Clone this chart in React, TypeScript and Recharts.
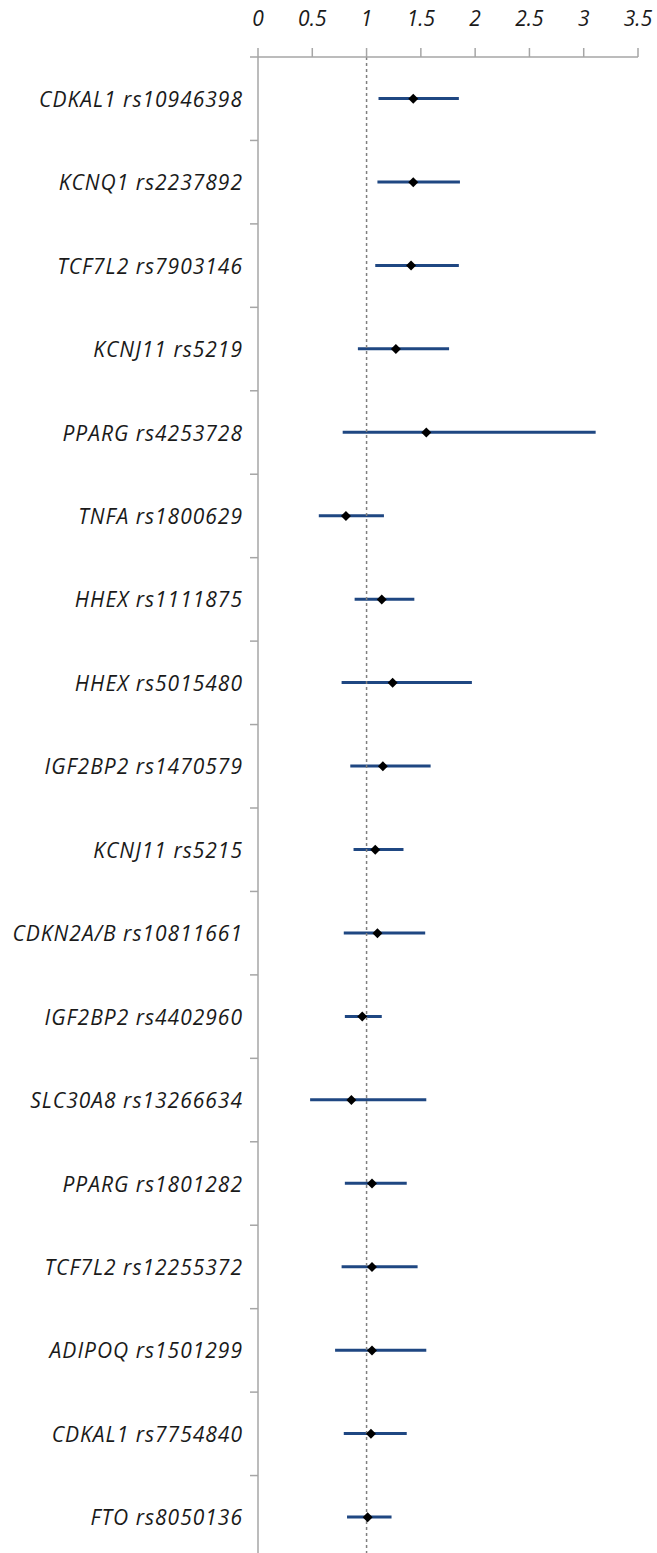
import React from 'react'
import { ComposedChart, Bar, Scatter, XAxis, YAxis, ReferenceLine } from 'recharts'

const genes = [
  'CDKAL1 rs10946398',
  'KCNQ1 rs2237892',
  'TCF7L2 rs7903146',
  'KCNJ11 rs5219',
  'PPARG rs4253728',
  'TNFA rs1800629',
  'HHEX rs1111875',
  'HHEX rs5015480',
  'IGF2BP2 rs1470579',
  'KCNJ11 rs5215',
  'CDKN2A/B rs10811661',
  'IGF2BP2 rs4402960',
  'SLC30A8 rs13266634',
  'PPARG rs1801282',
  'TCF7L2 rs12255372',
  'ADIPOQ rs1501299',
  'CDKAL1 rs7754840',
  'FTO rs8050136',
]
const oddsRatio = [1.43, 1.43, 1.41, 1.27, 1.55, 0.81, 1.14, 1.24, 1.15, 1.08, 1.10, 0.96, 0.86, 1.05, 1.05, 1.05, 1.04, 1.01]
const ciLower = [1.11, 1.10, 1.08, 0.92, 0.78, 0.56, 0.89, 0.77, 0.85, 0.88, 0.79, 0.80, 0.48, 0.80, 0.77, 0.71, 0.79, 0.82]
const ciUpper = [1.85, 1.86, 1.85, 1.76, 3.11, 1.16, 1.44, 1.97, 1.59, 1.34, 1.54, 1.14, 1.55, 1.37, 1.47, 1.55, 1.37, 1.23]
const xTicks = [0, 0.5, 1, 1.5, 2, 2.5, 3, 3.5]

const data = genes.map((name, i) => ({
  name,
  or: oddsRatio[i],
  ci: [ciLower[i], ciUpper[i]],
}))

const FONT = '"Open Sans", "Liberation Sans", sans-serif'
const AXIS_GRAY = '#a6a6a6'
const Y_TICK = 8
const Y_MARGIN = 7

const GeneTick = (props: any) => {
  const { x, y, payload } = props
  const half = payload.offset ?? 0
  const axisX = x + Y_TICK + Y_MARGIN
  return (
    <g>
      <line x1={axisX - Y_TICK} x2={axisX} y1={y - half} y2={y - half} stroke={AXIS_GRAY} strokeWidth={1.5} />
      <text x={x} y={y} textAnchor="end" dominantBaseline="central" fontFamily={FONT} fontStyle="italic" fontSize={21} letterSpacing={1} fill="#1a1a1a">
        {payload.value}
      </text>
    </g>
  )
}

const Diamond = (props: any) => {
  const { cx, cy } = props
  const r = 5
  return <path d={`M${cx},${cy - r}L${cx + r},${cy}L${cx},${cy + r}L${cx - r},${cy}Z`} fill="#000" />
}

export default function App() {
  return (
    <div style={{ position: 'fixed', top: 0, left: 0, width: 657, height: 1553, overflow: 'hidden', background: '#fff' }}>
      <ComposedChart
        width={657}
        height={1570}
        data={data}
        layout="vertical"
        margin={{ top: 0, right: 19, bottom: 11, left: 0 }}
        barCategoryGap={0}
      >
        <XAxis
          type="number"
          orientation="top"
          domain={[0, 3.5]}
          ticks={xTicks}
          height={57}
          tickSize={9}
          tickMargin={22}
          axisLine={{ stroke: AXIS_GRAY, strokeWidth: 1.5 }}
          tickLine={{ stroke: AXIS_GRAY, strokeWidth: 1.5 }}
          tick={{ fontFamily: FONT, fontStyle: 'italic', fontSize: 21, fill: '#1a1a1a' }}
        />
        <YAxis
          type="category"
          dataKey="name"
          width={258}
          interval={0}
          tickSize={Y_TICK}
          tickMargin={Y_MARGIN}
          tickLine={false}
          axisLine={{ stroke: AXIS_GRAY, strokeWidth: 1.5 }}
          tick={<GeneTick />}
        />
        <ReferenceLine x={1} stroke="#7f7f7f" strokeWidth={1.5} strokeDasharray="3 3" />
        <Bar dataKey="ci" fill="#1f4782" barSize={3} isAnimationActive={false} />
        <Scatter dataKey="or" shape={<Diamond />} isAnimationActive={false} />
      </ComposedChart>
    </div>
  )
}
